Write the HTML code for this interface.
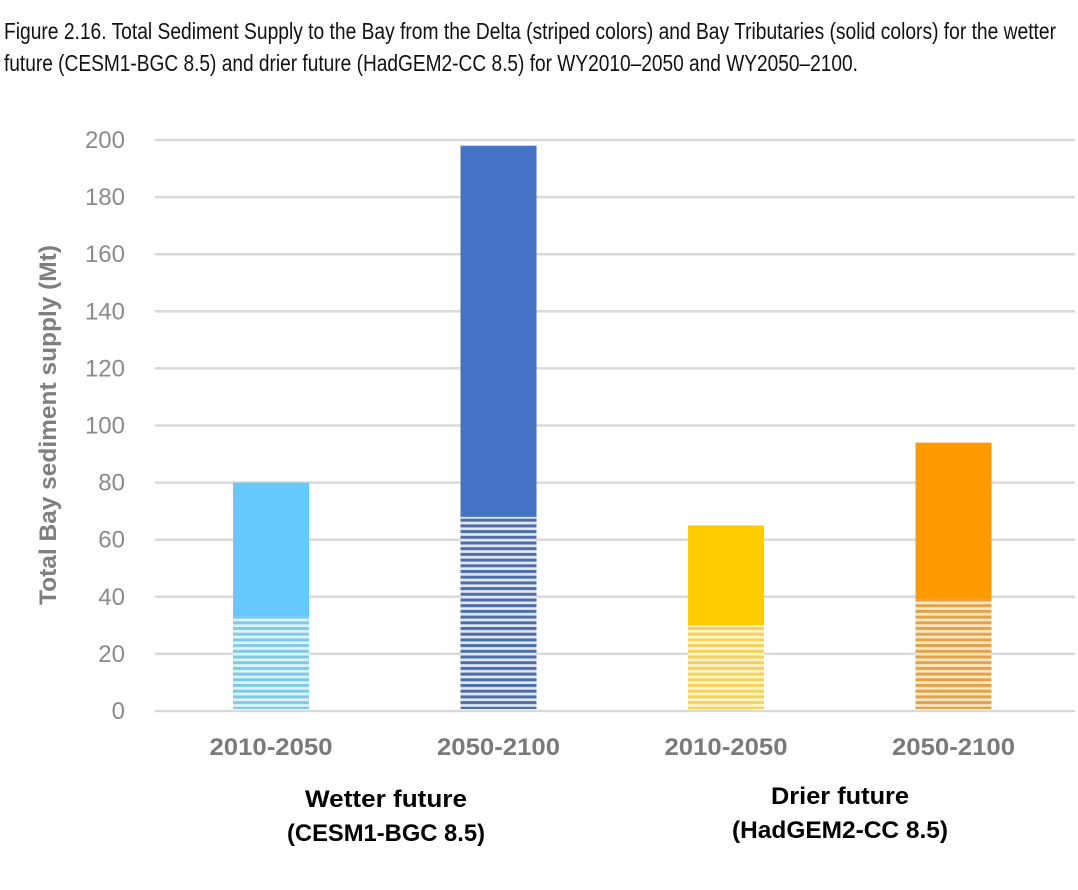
<!DOCTYPE html>
<html><head><meta charset="utf-8"><style>
html,body{margin:0;padding:0;background:#fff;width:1078px;height:890px;overflow:hidden}
svg{display:block}
</style></head><body>
<svg id="chart" width="1078" height="890" viewBox="0 0 1078 890" xmlns="http://www.w3.org/2000/svg">
<defs>
<pattern id="p0" width="4" height="5.7" patternUnits="userSpaceOnUse"><rect width="4" height="5.7" fill="#dff3fb"/><rect y="0" width="4" height="3" fill="#7fcbe6"/></pattern>
<pattern id="p1" width="4" height="5.7" patternUnits="userSpaceOnUse"><rect width="4" height="5.7" fill="#e2e8f3"/><rect y="0" width="4" height="3" fill="#4d6ea9"/></pattern>
<pattern id="p2" width="4" height="5.7" patternUnits="userSpaceOnUse"><rect width="4" height="5.7" fill="#fdf3cc"/><rect y="0" width="4" height="3" fill="#f3d35c"/></pattern>
<pattern id="p3" width="4" height="5.7" patternUnits="userSpaceOnUse"><rect width="4" height="5.7" fill="#fbe7c4"/><rect y="0" width="4" height="3" fill="#e2a24a"/></pattern>
</defs>
<g font-family="'Liberation Sans Narrow','Liberation Sans',sans-serif" font-size="23" fill="#111">
<text x="4" y="39" textLength="1052" lengthAdjust="spacingAndGlyphs">Figure 2.16. Total Sediment Supply to the Bay from the Delta (striped colors) and Bay Tributaries (solid colors) for the wetter</text>
<text x="4" y="71" textLength="854" lengthAdjust="spacingAndGlyphs">future (CESM1-BGC 8.5) and drier future (HadGEM2-CC 8.5) for WY2010–2050 and WY2050–2100.</text>
</g>
<g id="grid"></g>
<g id="yticks" font-family="'Liberation Sans',sans-serif" font-size="24" fill="#8a8a8a" text-anchor="end"></g>
<text transform="translate(56,425) rotate(-90)" text-anchor="middle" font-family="'Liberation Sans',sans-serif" font-weight="bold" font-size="24" fill="#7f7f7f" textLength="360" lengthAdjust="spacingAndGlyphs">Total Bay sediment supply (Mt)</text>
<g id="bars"></g>
<g id="xlabels" font-family="'Liberation Sans',sans-serif" font-weight="bold" font-size="24" fill="#7a7a7a" text-anchor="middle"></g>
<g font-family="'Liberation Sans',sans-serif" font-weight="bold" font-size="24" fill="#000" text-anchor="middle">
<text x="386" y="807" textLength="162" lengthAdjust="spacingAndGlyphs">Wetter future</text>
<text x="386" y="841" textLength="198" lengthAdjust="spacingAndGlyphs">(CESM1-BGC 8.5)</text>
<text x="840" y="804" textLength="138" lengthAdjust="spacingAndGlyphs">Drier future</text>
<text x="840" y="838" textLength="216" lengthAdjust="spacingAndGlyphs">(HadGEM2-CC 8.5)</text>
</g>
</svg>
<script>
const categories = ["2010-2050","2050-2100","2010-2050","2050-2100"];
const deltaValues = [33, 68, 30, 39];
const tributaryValues = [47, 130, 35, 55];
const yTicks = [0,20,40,60,80,100,120,140,160,180,200];
const solidColors = ["#66c8fc","#4472c4","#ffcc00","#ff9a00"];
const stripeFills = ["url(#p0)","url(#p1)","url(#p2)","url(#p3)"];
const NS="http://www.w3.org/2000/svg";
const y0=711, y200=140, xL=155, xR=1075;
const yS=v=>y0-(v/200)*(y0-y200);
const xC=i=>271+i*227.5;
const bw=76;
function mk(tag,attrs,parent){const e=document.createElementNS(NS,tag);for(const k in attrs)e.setAttribute(k,attrs[k]);parent.appendChild(e);return e;}
const grid=document.getElementById('grid'),yt=document.getElementById('yticks'),bars=document.getElementById('bars'),xl=document.getElementById('xlabels');
yTicks.forEach(t=>{
  const l=mk('line',{x1:xL,x2:xR,y1:yS(t),y2:yS(t),stroke:'#d9d9d9','stroke-width':2.5},grid);
  
  
  const tx=mk('text',{x:125,y:yS(t)+8},yt);
  tx.textContent=t;
  
  
});
categories.forEach((c,i)=>{
  const x=xC(i)-bw/2;
  const d=mk('rect',{x:x,y:yS(deltaValues[i]),width:bw,height:yS(0)-yS(deltaValues[i])-2,fill:stripeFills[i]},bars);
  
  
  const tot=deltaValues[i]+tributaryValues[i];
  const t=mk('rect',{x:x,y:yS(tot),width:bw,height:yS(deltaValues[i])-yS(tot),fill:solidColors[i]},bars);
  
  
  const tx=mk('text',{x:xC(i),y:755,textLength:123,lengthAdjust:'spacingAndGlyphs'},xl);
  tx.textContent=c;
  
  
});
</script>
</body></html>
